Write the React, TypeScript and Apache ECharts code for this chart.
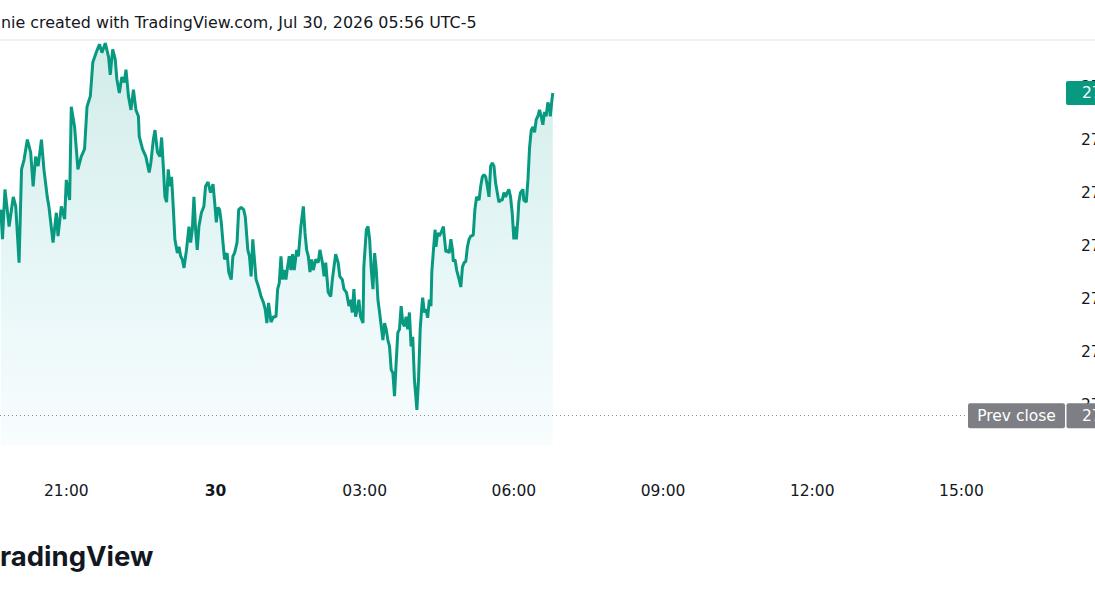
import React, { useEffect, useRef } from "react";
import * as echarts from "echarts";

// time in minutes since Jul 29 18:00 (21:00 = 180, "30" = 360, 03:00 = 540 ...)
const times: number[] = [
  101, 103, 106, 111, 116, 119, 123, 126, 129, 133, 137, 140, 143, 146, 150, 153, 157, 159, 164, 168,
  170, 174, 178, 180, 184, 186, 190, 194, 198, 202, 205, 209, 212, 216, 220, 223, 227, 231, 233, 236,
  239, 241, 244, 247, 250, 252, 255, 258, 261, 264, 267,
  268, 272, 276, 280, 282, 285, 287, 290, 293, 295, 297, 299, 301, 303, 305, 307, 309, 311, 314, 316,
  318, 320, 322, 325, 328, 330, 332, 334, 336, 338, 340, 343, 346, 348, 351, 354, 357, 359, 361, 363,
  365, 367, 369, 371, 374, 376, 379, 381, 383, 386, 388, 391, 394, 396, 399, 401, 403, 405, 407, 409,
  412, 415, 418, 420, 422, 424, 427, 430,
  433, 435, 437, 439, 441, 443, 445, 447, 449, 451, 453, 455, 458, 460, 463, 466, 468, 470, 472, 474,
  476, 478, 481, 484, 486, 489, 491, 493, 496, 499, 501, 503, 505, 508, 510, 513, 515, 518, 521, 523,
  525, 527, 529, 532, 533, 535, 538, 539, 542, 544, 546, 548, 550, 552, 554, 556, 558, 560, 562, 564,
  566, 568, 570, 572, 574, 576, 578, 580, 582, 584, 586, 588, 590, 592, 594,
  596, 598, 600, 602, 603, 605, 607, 609, 610, 612, 614, 616, 618, 620, 621, 623, 625, 626, 628, 630,
  632, 635, 636, 638, 640, 642, 644, 646, 647, 649, 651, 654, 656, 658, 660, 662, 664, 666, 668, 671,
  673, 675, 678, 680, 682, 684, 686, 688, 690, 692, 694, 696, 698, 700, 702, 704, 706, 708, 710, 712,
  714, 716, 718, 720, 721, 723, 725, 726, 728, 731, 732, 735, 737, 739, 741, 743, 745, 747, 749, 751,
  753, 755, 757, 759, 761, 763, 764, 766, 767,
];

const prices: number[] = [
  27234, 27206, 27253, 27218, 27246, 27237, 27184, 27272, 27281, 27300, 27288, 27256, 27284, 27275, 27300, 27272, 27246, 27237, 27203, 27231,
  27209, 27237, 27225, 27262, 27243, 27331, 27312, 27272, 27284, 27291, 27331, 27341, 27373, 27382, 27390, 27382, 27391, 27378, 27361, 27385,
  27376, 27357, 27344, 27359, 27354, 27366, 27341, 27328, 27347, 27328, 27322,
  27303, 27291, 27284, 27269, 27278, 27300, 27309, 27288, 27284, 27302, 27275, 27246, 27241, 27272, 27256, 27265, 27237, 27206, 27193, 27199,
  27190, 27187, 27179, 27196, 27218, 27203, 27215, 27246, 27215, 27196, 27218, 27231, 27237, 27256, 27260, 27250, 27258, 27241, 27222, 27236,
  27234, 27222, 27203, 27187, 27193, 27175, 27168, 27190, 27193, 27203, 27234, 27236, 27234, 27227, 27196, 27190, 27171, 27206, 27187, 27168,
  27161, 27152, 27146, 27140, 27127, 27146, 27128, 27133,
  27133, 27159, 27165, 27190, 27168, 27177, 27168, 27180, 27190, 27177, 27192, 27177, 27196, 27190, 27218, 27237, 27212, 27196, 27190, 27175,
  27187, 27177, 27187, 27184, 27196, 27184, 27171, 27184, 27156, 27152, 27168, 27180, 27192, 27184, 27171, 27168, 27159, 27156, 27143, 27149,
  27137, 27159, 27133, 27143, 27149, 27133, 27127, 27180, 27215, 27218, 27206, 27177, 27159, 27193, 27177, 27149, 27137, 27124, 27111, 27127,
  27121, 27111, 27105, 27083, 27080, 27058, 27090, 27118, 27121, 27143, 27127, 27124, 27133, 27121, 27137,
  27105, 27114, 27074, 27055, 27045, 27074, 27121, 27143, 27151, 27137, 27140, 27132, 27149, 27143, 27175, 27196, 27215, 27199, 27212, 27209,
  27212, 27218, 27209, 27194, 27196, 27193, 27206, 27196, 27185, 27187, 27177, 27168, 27161, 27180, 27184, 27185, 27199, 27206, 27209, 27210,
  27234, 27246, 27243, 27256, 27265, 27267, 27265, 27256, 27246, 27275, 27278, 27275, 27259, 27250, 27241, 27243, 27243, 27250, 27246, 27250,
  27253, 27246, 27231, 27206, 27218, 27206, 27227, 27241, 27250, 27253, 27243, 27241, 27262, 27293, 27309, 27312, 27307, 27319, 27322, 27328,
  27322, 27314, 27326, 27322, 27335, 27331, 27322, 27338, 27344,
];

const timeTicks: number[] = [180, 360, 540, 720, 900, 1080, 1260];
const timeTickLabels: string[] = ["21:00", "30", "03:00", "06:00", "09:00", "12:00", "15:00"];
const priceTicks: number[] = [27050, 27100, 27150, 27200, 27250, 27300, 27350];
const prevClose = 27040;

const headerText = "nie created with TradingView.com, Jul 30, 2026 05:56 UTC-5";
const logoText = "radingView";

const FONT = "'DejaVu Sans', sans-serif";
const TEXT = "#131722";
const GREEN = "#089981";
const GREY = "#7d7f85";

const fmt = (v: number) => v.toLocaleString("en-US", { minimumFractionDigits: 1, maximumFractionDigits: 1 });

export default function App() {
  const ref = useRef<HTMLDivElement>(null);

  useEffect(() => {
    const el = ref.current;
    if (!el) return;
    const chart = echarts.init(el, null, { renderer: "svg" });
    const data = times.map((t, i) => [t, prices[i]]);
    const last = prices[prices.length - 1];

    chart.setOption({
      animation: false,
      backgroundColor: "#ffffff",
      grid: { left: 0, right: 30, top: 41, bottom: 155, containLabel: false, outerBoundsMode: "none" },
      xAxis: {
        type: "value",
        min: 100,
        max: 1385,
        axisLine: { show: false },
        axisTick: { show: false },
        splitLine: { show: false },
        axisLabel: {
          customValues: timeTicks,
          margin: 38,
          color: TEXT,
          fontSize: 15.5,
          fontFamily: FONT,
          formatter: (v: number) => {
            const i = timeTicks.indexOf(v);
            const s = i >= 0 ? timeTickLabels[i] : "";
            return v === 360 ? "{b|" + s + "}" : s;
          },
          rich: { b: { fontWeight: "bold", fontSize: 15.5, fontFamily: FONT, color: TEXT } },
        },
      },
      yAxis: {
        type: "value",
        position: "right",
        min: 27012,
        max: 27393,
        axisLine: { show: false },
        axisTick: { show: false },
        splitLine: { show: false },
        axisLabel: {
          customValues: priceTicks,
          margin: 16,
          color: TEXT,
          fontSize: 15.5,
          fontFamily: FONT,
          hideOverlap: false,
          formatter: (v: number) => fmt(v),
        },
      },
      series: [
        {
          type: "line",
          data,
          showSymbol: false,
          symbol: "none",
          lineStyle: { color: GREEN, width: 3 },
          areaStyle: {
            origin: "start",
            color: new echarts.graphic.LinearGradient(0, 0, 0, 1, [
              { offset: 0, color: "rgba(8,153,129,0.26)" },
              { offset: 1, color: "rgba(0,170,200,0.04)" },
            ]),
          },
          markLine: {
            silent: true,
            symbol: "none",
            label: { show: false },
            lineStyle: { type: [1, 3], color: "#8a8d95", width: 1 },
            data: [{ yAxis: prevClose }],
          },
        },
      ],
    });

    const yPrev = chart.convertToPixel({ yAxisIndex: 0 }, prevClose) as number;
    const yLast = chart.convertToPixel({ yAxisIndex: 0 }, last) as number;

    chart.setOption({
      graphic: [
        {
          type: "text",
          x: 1,
          y: 22,
          z: 100,
          style: { text: headerText, fontSize: 15.9, fontFamily: FONT, fill: TEXT, verticalAlign: "middle" },
        },
        { type: "rect", z: 100, shape: { x: 0, y: 39, width: 1095, height: 2 }, style: { fill: "#f0f1f4" } },
        {
          type: "text",
          x: 0,
          y: 556,
          z: 100,
          style: { text: logoText, fontSize: 27.5, fontWeight: 700, fontFamily: "Inter, 'DejaVu Sans', sans-serif", fill: TEXT, verticalAlign: "middle" },
        },
        { type: "rect", z: 100, shape: { x: 1066, y: yLast - 12, width: 40, height: 24, r: 2 }, style: { fill: GREEN } },
        {
          type: "text",
          x: 1082,
          y: yLast,
          z: 101,
          style: { text: fmt(last), fontSize: 15.5, fontFamily: FONT, fill: "#ffffff", verticalAlign: "middle" },
        },
        { type: "rect", z: 100, shape: { x: 968, y: yPrev - 12, width: 97, height: 25, r: 2 }, style: { fill: GREY } },
        {
          type: "text",
          x: 1016.5,
          y: yPrev + 0.5,
          z: 101,
          style: { text: "Prev close", fontSize: 15.5, fontFamily: FONT, fill: "#ffffff", align: "center", verticalAlign: "middle" },
        },
        { type: "rect", z: 100, shape: { x: 1066.5, y: yPrev - 12, width: 40, height: 25, r: 2 }, style: { fill: GREY } },
        {
          type: "text",
          x: 1082,
          y: yPrev + 0.5,
          z: 101,
          style: { text: fmt(prevClose), fontSize: 15.5, fontFamily: FONT, fill: "#ffffff", verticalAlign: "middle" },
        },
      ],
    });

    return () => chart.dispose();
  }, []);

  return <div ref={ref} style={{ position: "fixed", left: 0, top: 0, width: 1095, height: 600 }} />;
}
